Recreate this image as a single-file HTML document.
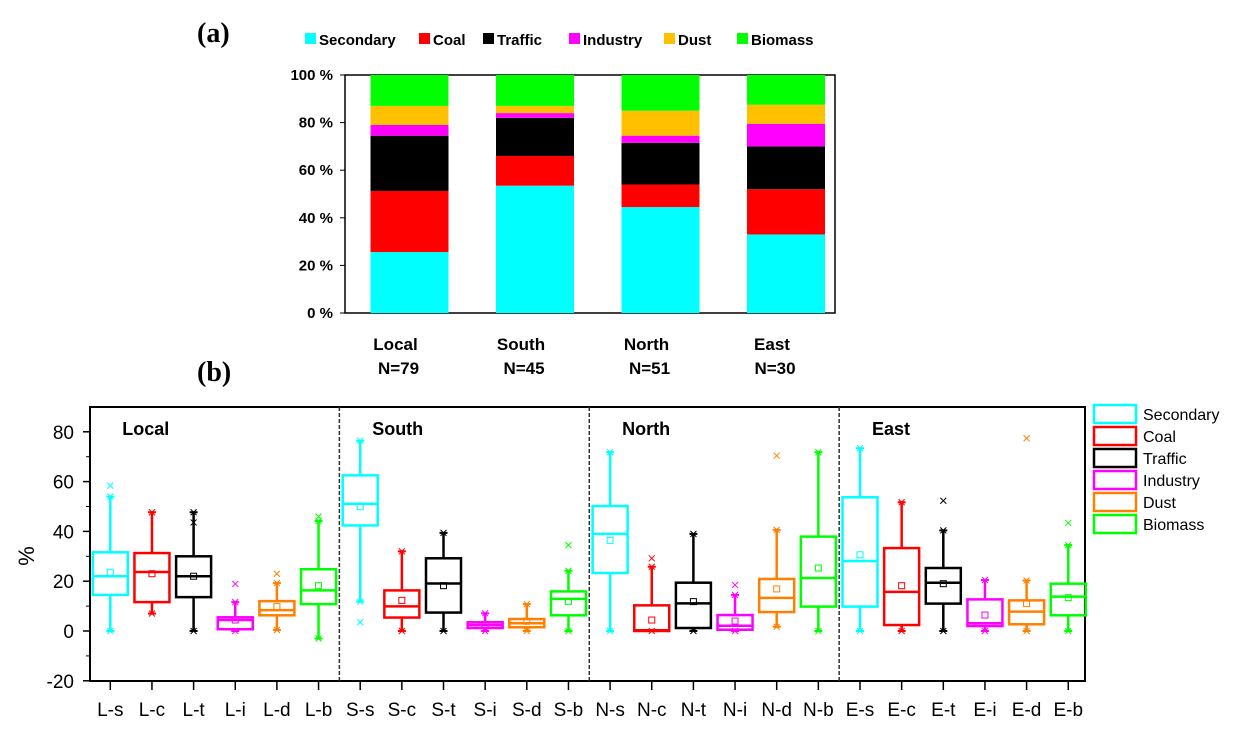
<!DOCTYPE html>
<html><head><meta charset="utf-8"><style>
body{margin:0;background:#fff;}
svg text{font-family:"Liberation Sans",sans-serif;}
svg text.serif{font-family:"Liberation Serif",serif;}
</style></head><body>
<svg id="s" width="1256" height="734" xmlns="http://www.w3.org/2000/svg"></svg>
<script>
// ---- panel (a) data ----
const regions=["Local","South","North","East"];
const nLabels=["N=79","N=45","N=51","N=30"];
const sources=["Secondary","Coal","Traffic","Industry","Dust","Biomass"];
const colorsA=["#00ffff","#ff0000","#000000","#ff00ff","#ffc000","#00ff00"];
const secondaryPct=[25.6,53.5,44.5,33];
const coalPct=[25.7,12.5,9.5,19];
const trafficPct=[23.2,16,17.5,18];
const industryPct=[4.5,2,3,9.5];
const dustPct=[8,3,10.5,8];
const biomassPct=[13,13,15,12.5];
const yTicksA=["0 %","20 %","40 %","60 %","80 %","100 %"];
// ---- panel (b) data ----
const boxLabels=["L-s","L-c","L-t","L-i","L-d","L-b","S-s","S-c","S-t","S-i","S-d","S-b","N-s","N-c","N-t","N-i","N-d","N-b","E-s","E-c","E-t","E-i","E-d","E-b"];
const whiskerHigh=[54,47.7,47.7,11.6,19.3,44.2,76.4,32,39.4,7.1,10.8,24.2,71.8,25.8,39,14.5,40.6,71.8,73.4,51.7,40.4,20.5,20.3,34.5];
const q3=[31.6,31.3,30,5.5,12,24.8,62.5,16.3,29.2,3.5,4.8,15.9,50.2,10.3,19.4,6.4,20.9,37.9,53.7,33.3,25.3,12.7,12.3,19];
const medians=[22,23.7,22,4.4,8.4,16.3,51.1,9.9,19.1,2.4,3.1,12.9,39,0.3,11.1,2.1,13.3,21.3,28.1,15.7,19.4,3.1,7.8,13.8];
const q1=[14.5,11.6,13.6,0.7,6.3,10.8,42.4,5.4,7.4,1.2,1.5,6.3,23.3,0,1.2,0.5,7.6,9.8,9.8,2.4,11,2,2.7,6.3];
const whiskerLow=[0,7,0,0,0.4,-3,11.8,0,0,0,0,0,0,0,0,0,1.7,0,0,0,0,0,0,0];
const means=[23.6,23,22,4.4,9.8,18.2,49.9,12.3,18.2,2.4,3.9,11.9,36.4,4.4,11.8,4,16.9,25.3,30.6,18.2,19,6.4,11,13.4];
const outliers=[[0,58.4],[3,18.9],[4,23],[5,46],[2,43.6],[6,3.5],[11,34.5],[13,29.2],[15,18.5],[16,70.4],[20,52.3],[22,77.4],[23,43.4]];
const yTicksB=[-20,0,20,40,60,80];
const groupNames=["Local","South","North","East"];

const NS="http://www.w3.org/2000/svg";
const svg=document.getElementById('s');
function mk(tag,attrs,parent,txt){const e=document.createElementNS(NS,tag);for(const k in attrs)e.setAttribute(k,attrs[k]);if(txt!==undefined)e.textContent=txt;(parent||svg).appendChild(e);return e;}

// ===== panel (a) =====
const aL=345,aR=835,aT=75,aB=313;
const yA=v=>aB-(v/100)*(aB-aT);
const xA=i=>409.5+i*125.5;
let t=mk('text',{x:197,y:42,'font-size':28,'font-weight':'bold','class':'serif'},svg,'(a)');

let fr=mk('rect',{x:aL,y:aT,width:aR-aL,height:aB-aT,fill:'none',stroke:'#000','stroke-width':1.5});

yTicksA.forEach((lab,i)=>{const v=i*20;
 const tk=mk('line',{x1:aL-5,x2:aL,y1:yA(v),y2:yA(v),stroke:'#000'});
 
 const tx=mk('text',{x:aL-12,y:yA(v)+5,'font-size':15,'font-weight':'bold','text-anchor':'end'},svg,lab);
 });
const series=[secondaryPct,coalPct,trafficPct,industryPct,dustPct,biomassPct];
regions.forEach((r,i)=>{let cum=0;
 series.forEach((ser,k)=>{const v=ser[i];
  const b=mk('rect',{x:xA(i)-39,y:yA(cum+v),width:78,height:yA(cum)-yA(cum+v),fill:colorsA[k]});
  
  cum+=v;});
 const l1=mk('text',{x:xA(i)-14,y:350,'font-size':17,'font-weight':'bold','text-anchor':'middle'},svg,r);
 
 const l2=mk('text',{x:xA(i)-11,y:374,'font-size':17,'font-weight':'bold','text-anchor':'middle'},svg,nLabels[i]);
 
});
const legX=[305,419,483,569,664,737];
sources.forEach((s,k)=>{
 const g=mk('g',{});
 mk('rect',{x:legX[k],y:33,width:11,height:11,fill:colorsA[k]},g);
 mk('text',{x:legX[k]+14,y:45,'font-size':15,'font-weight':'bold'},g,s);
});

// ===== panel (b) =====
const bL=90,bR=1085,bT=407,bB=681;
const yB=v=>631-v*2.49;
const xB=i=>110.3+i*41.65;
const colorsB=["#00ffff","#ff0000","#000000","#ff00ff","#ff8000","#00ff00"];
t=mk('text',{x:197,y:381,'font-size':28,'font-weight':'bold','class':'serif'},svg,'(b)');

fr=mk('rect',{x:bL,y:bT,width:bR-bL,height:bB-bT,fill:'none',stroke:'#000','stroke-width':2});

yTicksB.forEach(v=>{
 const tk=mk('line',{x1:bL-7,x2:bL,y1:yB(v),y2:yB(v),stroke:'#000','stroke-width':1.5});
 
 const tx=mk('text',{x:74,y:yB(v)+7,'font-size':19,'text-anchor':'end'},svg,String(v));
 
 const mv=v+10; if(mv<90){const m=mk('line',{x1:bL-4,x2:bL,y1:yB(mv),y2:yB(mv),stroke:'#000'});
 }
});
const yt=mk('text',{x:34,y:556,'font-size':22,'text-anchor':'middle',transform:'rotate(-90 34 556)'},svg,'%');

[1,2,3].forEach(g=>{const x=(xB(g*6-1)+xB(g*6))/2;
 const d=mk('line',{x1:x,x2:x,y1:bT,y2:bB,stroke:'#333','stroke-width':1.5,'stroke-dasharray':'4,2'});
 });
groupNames.forEach((n,g)=>{const tx=mk('text',{x:xB(g*6)+12,y:435,'font-size':18,'font-weight':'bold'},svg,n);
 });
function xmark(x,y,c,g){mk('path',{d:`M${x-3} ${y-3}L${x+3} ${y+3}M${x+3} ${y-3}L${x-3} ${y+3}`,stroke:c,'stroke-width':1},g);}
boxLabels.forEach((lab,i)=>{
 const c=colorsB[i%6],x=xB(i),w=35;
 const g=mk('g',{});
 mk('line',{x1:x,x2:x,y1:yB(whiskerHigh[i]),y2:yB(q3[i]),stroke:c,'stroke-width':2.5},g);
 mk('line',{x1:x,x2:x,y1:yB(q1[i]),y2:yB(whiskerLow[i]),stroke:c,'stroke-width':2.5},g);
 mk('line',{x1:x-4,x2:x+4,y1:yB(whiskerHigh[i]),y2:yB(whiskerHigh[i]),stroke:c,'stroke-width':2},g);
 mk('line',{x1:x-4,x2:x+4,y1:yB(whiskerLow[i]),y2:yB(whiskerLow[i]),stroke:c,'stroke-width':2},g);
 xmark(x,yB(whiskerHigh[i]),c,g);xmark(x,yB(whiskerLow[i]),c,g);
 mk('rect',{x:x-w/2,y:yB(q3[i]),width:w,height:Math.max(1,yB(q1[i])-yB(q3[i])),fill:'none',stroke:c,'stroke-width':2.5},g);
 mk('line',{x1:x-w/2,x2:x+w/2,y1:yB(medians[i]),y2:yB(medians[i]),stroke:c,'stroke-width':2.5},g);
 mk('rect',{x:x-3,y:yB(means[i])-3,width:6,height:6,fill:'none',stroke:c,'stroke-width':1},g);
 const tk=mk('line',{x1:x,x2:x,y1:bB,y2:bB+9,stroke:'#000','stroke-width':1.5});
 
 const tx=mk('text',{x:x,y:716,'font-size':19,'text-anchor':'middle'},svg,lab);
 
});
outliers.forEach(o=>{const g=mk('g',{});
 xmark(xB(o[0]),yB(o[1]),colorsB[o[0]%6],g);});
sources.forEach((s,k)=>{const y=405+k*22;
 const g=mk('g',{});
 mk('rect',{x:1094,y:y,width:42,height:18,fill:'none',stroke:colorsB[k],'stroke-width':2.5},g);
 mk('text',{x:1143,y:y+15,'font-size':16},g,s);});
</script>
</body></html>
